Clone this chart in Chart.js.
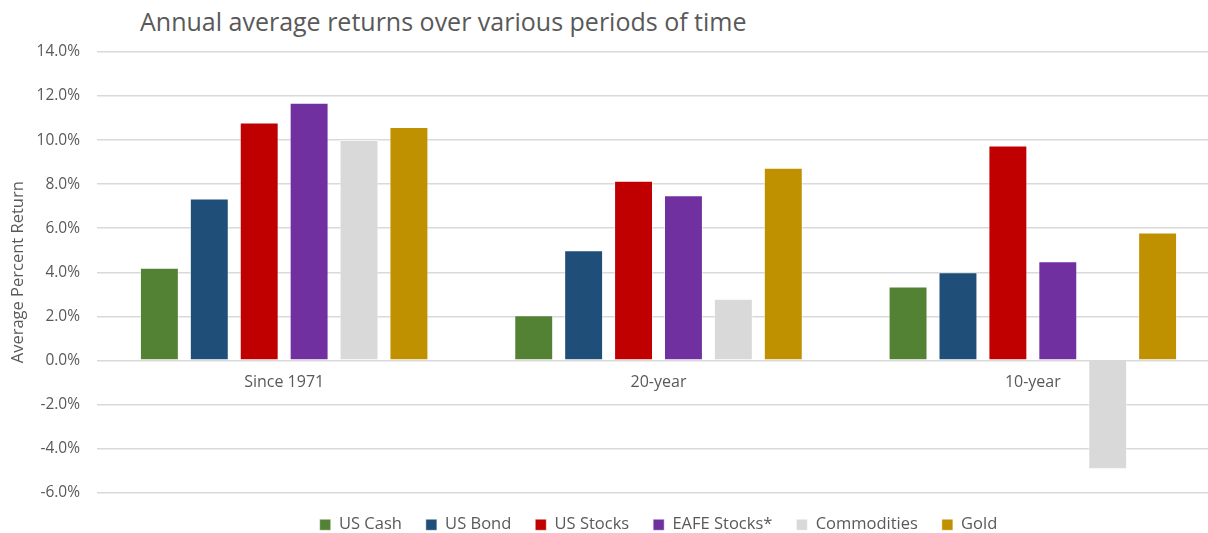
<!DOCTYPE html>
<html>
<head>
<meta charset="utf-8">
<script src="https://cdn.jsdelivr.net/npm/chart.js@4/dist/chart.umd.min.js"></script>
<style>
    html, body {
        margin: 0;
        padding: 0;
        background: #ffffff;
        overflow: hidden;
        width: 1208px;
        height: 533px;
    }
    #subtitulo {
        position: absolute;
        left: 140px;
        top: 4px;
        font-family: "Open Sans", sans-serif;
        font-size: 25px;
        line-height: 34px;
        color: #595959;
        white-space: nowrap;
    }
    #contenedor {
        position: absolute;
        left: 0;
        top: 0;
        width: 1220px;
        height: 543px;
    }
</style>
</head>
<body>
<div id="subtitulo">Annual average returns over various periods of time</div>
<div id="contenedor"><canvas id="chartRetornos"></canvas></div>
<script>
// datos (% anual promedio)
const categorias = ["Since 1971", "20-year", "10-year"];
const usCash = [4.2, 2.05, 3.35];
const usBond = [7.35, 5.0, 4.0];
const usStocks = [10.8, 8.15, 9.75];
const eafeStocks = [11.7, 7.5, 4.5];
const commodities = [10.0, 2.8, -4.95];
const gold = [10.6, 8.75, 5.8];

const yMin = -6;
const yMax = 14;
const yPaso = 2;

const series = [
    { label: "US Cash", data: usCash, color: "#548235" },
    { label: "US Bond", data: usBond, color: "#1F4E79" },
    { label: "US Stocks", data: usStocks, color: "#C00000" },
    { label: "EAFE Stocks*", data: eafeStocks, color: "#7030A0" },
    { label: "Commodities", data: commodities, color: "#D9D9D9" },
    { label: "Gold", data: gold, color: "#BF9000" }
];

const fuente = "'Open Sans', sans-serif";
const gris = "#595959";

const ctx = document.getElementById("chartRetornos");
new Chart(ctx, {
    type: "bar",
    data: {
        labels: categorias,
        datasets: series.map(s => ({
            label: s.label,
            data: s.data,
            backgroundColor: s.color,
            borderColor: "rgba(255, 255, 255, 0.45)",
            borderWidth: 1,
            categoryPercentage: 0.8,
            barPercentage: 0.78
        }))
    },
    options: {
        responsive: true,
        maintainAspectRatio: false,
        animation: false,
        layout: {
            padding: { top: 52, left: 0, right: 0, bottom: 0 }
        },
        plugins: {
            legend: {
                position: "bottom",
                fullSize: false,
                labels: {
                    boxWidth: 11,
                    boxHeight: 11,
                    padding: 24,
                    color: gris,
                    font: { family: fuente, size: 16.5 }
                }
            },
            tooltip: { enabled: false }
        },
        scales: {
            x: {
                position: { y: 0 },
                grid: { display: false, drawTicks: false },
                border: { display: false },
                ticks: {
                    padding: 12,
                    color: gris,
                    font: { family: fuente, size: 16 }
                }
            },
            y: {
                min: yMin,
                max: yMax,
                afterFit: escala => { escala.width = 97; },
                ticks: {
                    stepSize: yPaso,
                    padding: 17,
                    color: gris,
                    font: { family: fuente, size: 15.5 },
                    callback: v => v.toFixed(1) + "%"
                },
                grid: {
                    color: "#d9d9d9",
                    lineWidth: 1.5,
                    drawTicks: false
                },
                border: { display: false },
                title: {
                    display: true,
                    text: "Average Percent Return",
                    color: gris,
                    padding: { top: 8, bottom: 0 },
                    font: { family: fuente, size: 16.5 }
                }
            }
        }
    }
});
</script>
</body>
</html>
